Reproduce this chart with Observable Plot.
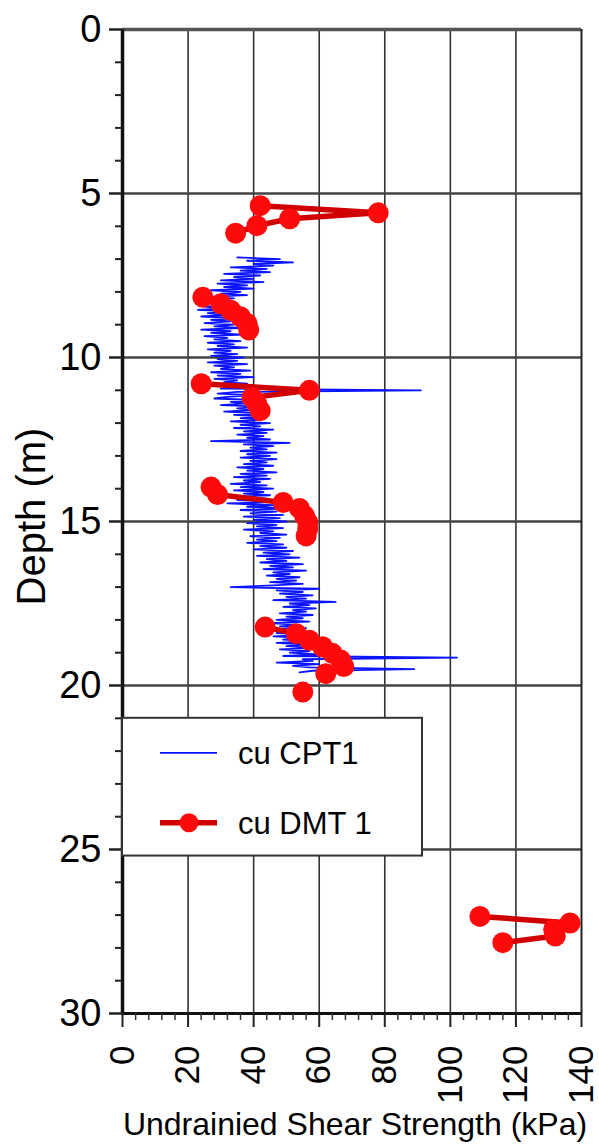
<!DOCTYPE html>
<html>
<head>
<meta charset="utf-8">
<script src="https://cdn.jsdelivr.net/npm/d3@7"></script>
<script src="https://cdn.jsdelivr.net/npm/@observablehq/plot@0.6"></script>
<style>
  html, body { margin: 0; padding: 0; background: #fff; }
</style>
</head>
<body>
<div id="chart"></div>
<script>
// ---- Data ----
// CPT1 undrained shear strength (kPa), sampled every cptStep metres from cptStartDepth
const cptStartDepth = 6.95;
const cptStep = 0.05;
const cptCu = [
  35, 48, 38, 52, 40, 46, 33, 44, 36, 45, 31, 42, 34, 40, 30, 43, 29, 38, 31, 40,
  27, 36, 30, 38, 26, 34, 24, 33, 27, 35, 25, 31, 23, 34, 26, 32, 24, 35, 27, 33,
  25, 34, 28, 36, 24, 33, 27, 37, 25, 32, 28, 36, 26, 34, 29, 38, 26, 33, 28, 35,
  27, 37, 29, 35, 26, 38, 28, 34, 30, 39, 27, 36, 29, 40, 28, 35, 31, 38, 30, 36,
  30, 91, 35, 29, 40, 32, 28, 42, 33, 38, 30, 43, 35, 40, 31, 41, 34, 44, 36, 42,
  33, 45, 36, 42, 34, 46, 37, 44, 35, 43, 38, 45, 27, 51, 37, 46, 39, 44, 36, 47,
  38, 45, 36, 47, 39, 44, 37, 46, 35, 43, 38, 47, 36, 44, 34, 45, 37, 42, 33, 44,
  36, 46, 34, 43, 37, 45, 33, 44, 35, 48, 32, 46, 38, 51, 36, 47, 39, 49, 37, 48,
  40, 50, 38, 47, 41, 49, 37, 46, 42, 50, 39, 48, 41, 47, 38, 49, 42, 50, 40, 52,
  43, 51, 41, 54, 44, 50, 42, 55, 45, 52, 43, 56, 46, 51, 44, 54, 47, 53, 45, 55,
  46, 33, 60, 47, 55, 48, 58, 50, 56, 46, 65, 51, 57, 49, 59, 52, 56, 48, 58, 50,
  55, 47, 57, 45, 54, 48, 56, 44, 53, 47, 57, 46, 55, 49, 58, 47, 56, 50, 59, 48,
  57, 51, 60, 49, 102, 55, 58, 47, 60, 52, 57, 89, 58, 54
];

// DMT 1 undrained shear strength: depth (m), cu (kPa), test run
const dmtDepth = [5.37, 5.59, 5.77, 5.98, 6.21,
  8.16, 8.36, 8.56, 8.76, 8.96, 9.16,
  10.80, 11.00, 11.22, 11.42, 11.62,
  13.95, 14.18, 14.42, 14.60, 14.82, 15.02, 15.22, 15.44,
  18.22, 18.42, 18.62, 18.82, 19.02, 19.22, 19.42, 19.64,
  20.20,
  27.04, 27.24, 27.44, 27.64, 27.84];
const dmtCu = [42, 78, 51, 41, 34.5,
  24.5, 30, 33, 36, 38, 38.5,
  24, 57, 39.5, 41, 42,
  27, 29, 49, 54, 55.5, 56.5, 56.5, 56,
  43.5, 53, 57, 61, 64, 66.5, 67.5, 62,
  55,
  109, 136.5, 131.5, 132, 116];
const dmtRun = ["a", "a", "a", "a", "a",
  "b", "b", "b", "b", "b", "b",
  "c", "c", "c", "c", "c",
  "d", "d", "d", "d", "d", "d", "d", "d",
  "e", "e", "e", "e", "e", "e", "e", "e",
  "f",
  "g", "g", "g", "g", "g"];

// Axes ticks
const xMajorTicks = [0, 20, 40, 60, 80, 100, 120, 140];
const xMinorTicks = [4, 8, 12, 16, 24, 28, 32, 36, 44, 48, 52, 56, 64, 68, 72, 76, 84, 88, 92, 96,
  104, 108, 112, 116, 124, 128, 132, 136];
const yMajorTicks = [0, 5, 10, 15, 20, 25, 30];
const yMinorTicks = [1, 2, 3, 4, 6, 7, 8, 9, 11, 12, 13, 14, 16, 17, 18, 19, 21, 22, 23, 24, 26, 27, 28, 29];
const xGrid = [20, 40, 60, 80, 100, 120];
const yGrid = [5, 10, 15, 20, 25];

const seriesNames = ["cu CPT1", "cu DMT 1"];
const xTitle = "Undrainied Shear Strength (kPa)";
const yTitle = "Depth (m)";

// Build tables
const cpt = cptCu.map((v, i) => ({depth: cptStartDepth + i * cptStep, cu: v}));
const dmt = dmtDepth.map((d, i) => ({depth: d, cu: dmtCu[i], run: dmtRun[i]}));

const BLUE = "#0a14ff";
const RED_LINE = "#d00000";
const RED_DOT = "#ff0a0a";
const FONT = "'Liberation Sans', Arial, Helvetica, sans-serif";

const chart = Plot.plot({
  width: 599,
  height: 1144,
  marginLeft: 122,
  marginRight: 18,
  marginTop: 29,
  marginBottom: 131,
  style: {fontFamily: FONT, color: "#000", background: "#fff"},
  x: {domain: [0, 140], axis: null},
  y: {domain: [0, 30], reverse: true, axis: null},
  marks: [
    // grid
    Plot.ruleX(xGrid, {stroke: "#333", strokeWidth: 1.6}),
    Plot.ruleY(yGrid, {stroke: "#444", strokeWidth: 2.6}),
    // data
    Plot.line(cpt, {x: "cu", y: "depth", stroke: BLUE, strokeWidth: 1.8, curve: "linear"}),
    Plot.line(dmt, {x: "cu", y: "depth", z: "run", stroke: RED_LINE, strokeWidth: 5.5}),
    Plot.dot(dmt, {x: "cu", y: "depth", r: 10.5, fill: RED_DOT, stroke: null}),
    // frame
    Plot.ruleY([0], {stroke: "#555", strokeWidth: 3.5}),
    Plot.ruleY([30], {stroke: "#111", strokeWidth: 3}),
    Plot.ruleX([0], {stroke: "#111", strokeWidth: 3.5}),
    Plot.ruleX([140], {stroke: "#222", strokeWidth: 2}),
    // axes
    Plot.axisY({ticks: yMajorTicks, tickSize: 13, tickPadding: 8, fontSize: 38, stroke: "#222", strokeWidth: 2.5, label: null}),
    Plot.axisY({ticks: yMinorTicks, tickSize: 7, text: null, stroke: "#222", strokeWidth: 2, label: null}),
    Plot.axisX({ticks: xMajorTicks, tickSize: 14, tickPadding: 18, tickRotate: -90, fontSize: 35, stroke: "#222", strokeWidth: 2, label: null}),
    Plot.axisX({ticks: xMinorTicks, tickSize: 7, text: null, stroke: "#333", strokeWidth: 1.5, label: null}),
    // titles
    Plot.text([yTitle], {frameAnchor: "left", textAnchor: "middle", dx: -90, dy: -5, rotate: -90, fontSize: 40, fill: "#000"}),
    Plot.text([xTitle], {frameAnchor: "bottom", textAnchor: "middle", dx: 3, dy: 121, fontSize: 32, fill: "#000"})
  ]
});

document.getElementById("chart").appendChild(chart);

// ---- Legend (inside plot, positioned via scales) ----
const legendBoxX = [0, 91.5];   // kPa
const legendBoxY = [21.0, 25.2]; // m
const sx = chart.scale("x"), sy = chart.scale("y");
const lx0 = sx.apply(legendBoxX[0]), lx1 = sx.apply(legendBoxX[1]);
const ly0 = sy.apply(legendBoxY[0]), ly1 = sy.apply(legendBoxY[1]);
const svg = d3.select(chart);
const lg = svg.append("g").attr("font-family", FONT).attr("text-anchor", "start");
lg.append("rect")
  .attr("x", lx0).attr("y", ly0)
  .attr("width", lx1 - lx0).attr("height", ly1 - ly0)
  .attr("fill", "#fff").attr("stroke", "#333").attr("stroke-width", 2);
const rowY = [ly0 + 35, ly0 + 105];
// CPT entry
lg.append("line").attr("x1", lx0 + 38).attr("x2", lx0 + 95).attr("y1", rowY[0]).attr("y2", rowY[0])
  .attr("stroke", BLUE).attr("stroke-width", 1.8);
lg.append("text").attr("x", lx0 + 116).attr("y", rowY[0]).attr("dy", "0.35em")
  .attr("text-anchor", "start").attr("font-size", 31).attr("fill", "#000").text(seriesNames[0]);
// DMT entry
lg.append("line").attr("x1", lx0 + 38).attr("x2", lx0 + 95).attr("y1", rowY[1]).attr("y2", rowY[1])
  .attr("stroke", RED_LINE).attr("stroke-width", 5.5);
lg.append("circle").attr("cx", lx0 + 67).attr("cy", rowY[1]).attr("r", 9.5).attr("fill", RED_DOT);
lg.append("text").attr("x", lx0 + 116).attr("y", rowY[1]).attr("dy", "0.35em")
  .attr("text-anchor", "start").attr("font-size", 31).attr("fill", "#000").text(seriesNames[1]);
</script>
</body>
</html>
